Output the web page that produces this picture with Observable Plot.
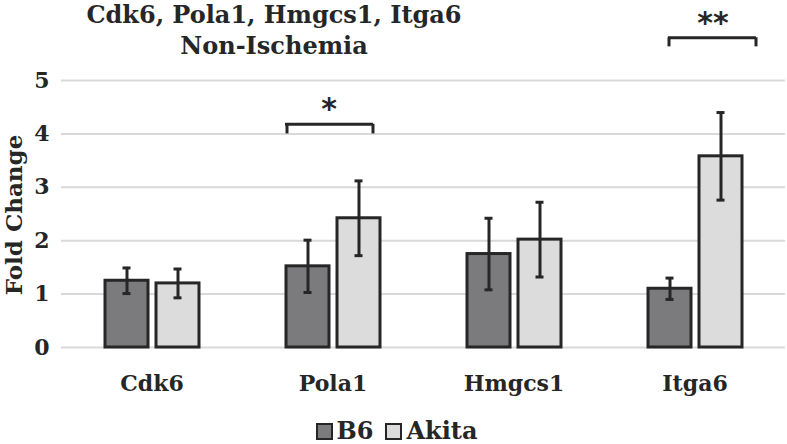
<!DOCTYPE html>
<html><head><meta charset="utf-8">
<script src="https://cdn.jsdelivr.net/npm/d3@7"></script>
<script src="https://cdn.jsdelivr.net/npm/@observablehq/plot@0.6"></script>
<style>
body{margin:0;background:#fff;font-family:"DejaVu Serif",serif;color:#262626}
#wrap{position:relative;width:787px;height:444px;overflow:hidden}
#chart{position:absolute;left:0;top:0}
#title{position:absolute;left:74px;width:400px;top:-1px;text-align:center;font-weight:bold;font-size:24px;line-height:31px}
#ylabel{position:absolute;left:13px;top:215px;transform:translate(-50%,-50%) rotate(-90deg);font-weight:bold;font-size:23px;white-space:nowrap}
#legend{position:absolute;top:418px;left:0;width:787px;display:flex;justify-content:center;align-items:center;gap:12px;font-weight:bold;font-size:24px;line-height:26px;padding-left:6px;box-sizing:border-box}
.item{display:flex;align-items:center;gap:4px}
.sw{width:13px;height:13px;border:2.5px solid #262626}
</style></head>
<body>
<div id="wrap">
<div id="chart"></div>
<div id="title">Cdk6, Pola1, Hmgcs1, Itga6<br>Non-Ischemia</div>
<div id="ylabel">Fold Change</div>
<div id="legend"></div>
</div>
<script>
const categories = ["Cdk6", "Pola1", "Hmgcs1", "Itga6"];
const series = ["B6", "Akita"];
const b6Values = [1.25, 1.52, 1.75, 1.10];
const b6Errors = [0.24, 0.49, 0.67, 0.20];
const akitaValues = [1.20, 2.42, 2.02, 3.58];
const akitaErrors = [0.27, 0.70, 0.70, 0.82];
const yTicks = [0, 1, 2, 3, 4, 5];
const colors = ["#7b7b7d", "#dcdcdc"];
const brackets = [
  {cat: "Pola1", y: 4.18, yEnd: 4.0, label: "*", labelY: 4.45},
  {cat: "Itga6", y: 5.8, yEnd: 5.63, label: "**", labelY: 6.07}
];

const data = [];
categories.forEach((c, i) => {
  data.push({cat: c, series: "B6", value: b6Values[i], err: b6Errors[i]});
  data.push({cat: c, series: "Akita", value: akitaValues[i], err: akitaErrors[i]});
});

const ink = "#262626";
const b0 = [brackets[0]], b1 = [brackets[1]];

const plot = Plot.plot({
  width: 787,
  height: 410,
  marginTop: 80,
  marginBottom: 63,
  marginLeft: 60,
  marginRight: 1,
  style: {fontFamily: "DejaVu Serif", fontWeight: "bold", fontSize: "22px", color: ink, background: "transparent", overflow: "visible"},
  fx: {domain: categories, padding: 0, label: null, tickSize: 0, tickPadding: 28},
  x: {domain: series, paddingInner: 0.16, paddingOuter: 0.825, axis: null},
  y: {domain: [0, 5], ticks: yTicks, tickSize: 0, tickPadding: 12, label: null, tickFormat: d3.format("d")},
  color: {domain: series, range: colors},
  marks: [
    Plot.ruleY(yTicks, {stroke: "#d9d9d9", strokeWidth: 2}),
    Plot.barY(data, {fx: "cat", x: "series", y: "value", fill: "series", stroke: ink, strokeWidth: 3}),
    Plot.ruleX(data, {fx: "cat", x: "series", y1: d => d.value - d.err, y2: d => d.value + d.err, stroke: ink, strokeWidth: 3}),
    Plot.tickY(data, {fx: "cat", x: "series", y: d => d.value + d.err, stroke: ink, strokeWidth: 3, inset: 17.5}),
    Plot.tickY(data, {fx: "cat", x: "series", y: d => d.value - d.err, stroke: ink, strokeWidth: 3, inset: 17.5}),
    // bracket Pola1
    Plot.ruleY(b0, {fx: "cat", x1: () => "B6", x2: () => "Akita", y: "y", stroke: ink, strokeWidth: 3, insetLeft: -1, insetRight: 7}),
    Plot.ruleX(b0, {fx: "cat", x: () => "B6", y1: "yEnd", y2: "y", stroke: ink, strokeWidth: 3, dx: -21}),
    Plot.ruleX(b0, {fx: "cat", x: () => "Akita", y1: "yEnd", y2: "y", stroke: ink, strokeWidth: 3, dx: 14}),
    Plot.text(b0, {fx: "cat", y: "labelY", text: "label", frameAnchor: "middle", dx: -4, fontSize: 30, fill: ink, fontWeight: "bold", fontFamily: "DejaVu Sans"}),
    // bracket Itga6
    Plot.ruleY(b1, {fx: "cat", x1: () => "B6", x2: () => "Akita", y: "y", stroke: ink, strokeWidth: 3, insetLeft: 20, insetRight: -14}),
    Plot.ruleX(b1, {fx: "cat", x: () => "B6", y1: "yEnd", y2: "y", stroke: ink, strokeWidth: 3, dx: -1}),
    Plot.ruleX(b1, {fx: "cat", x: () => "Akita", y1: "yEnd", y2: "y", stroke: ink, strokeWidth: 3, dx: 35}),
    Plot.text(b1, {fx: "cat", y: "labelY", text: "label", frameAnchor: "middle", dx: 18, fontSize: 30, fill: ink, fontWeight: "bold", fontFamily: "DejaVu Sans"})
  ]
});
document.getElementById("chart").appendChild(plot);

const legend = document.getElementById("legend");
series.forEach((s, i) => {
  const item = document.createElement("div");
  item.className = "item";
  const sw = document.createElement("div");
  sw.className = "sw";
  sw.style.background = colors[i];
  const t = document.createElement("span");
  t.textContent = s;
  item.appendChild(sw); item.appendChild(t);
  legend.appendChild(item);
});
</script>
</body></html>
